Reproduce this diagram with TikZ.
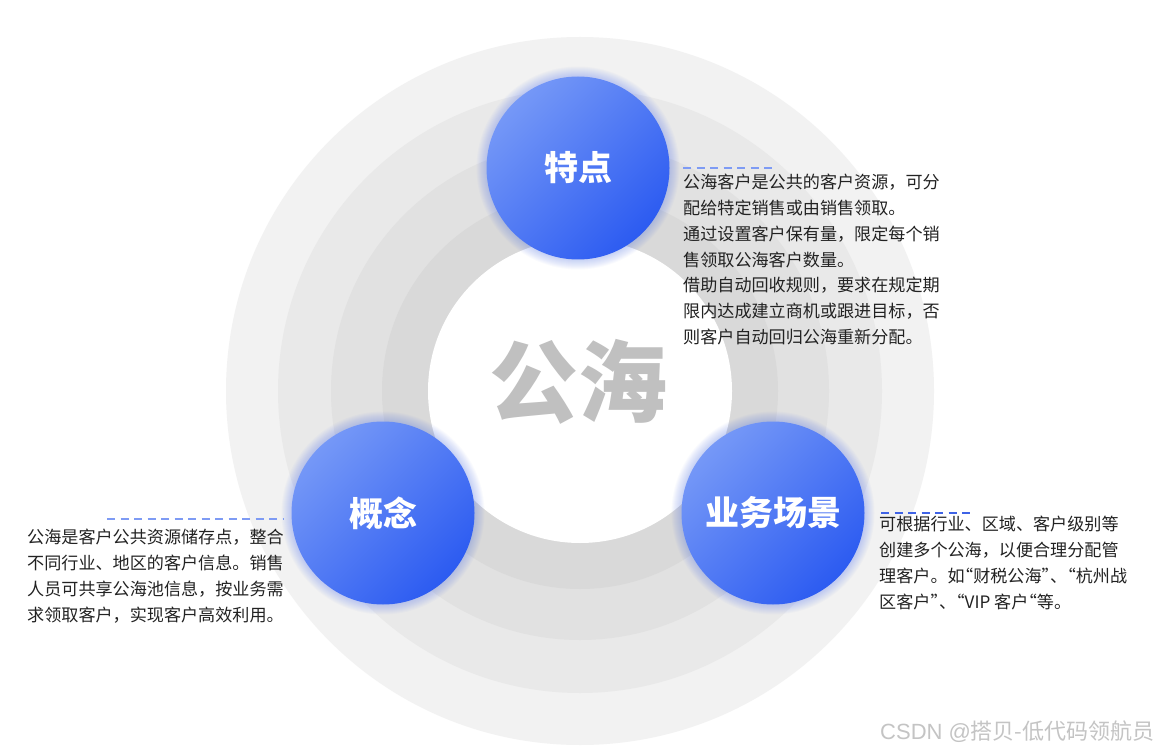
\documentclass[tikz,border=0pt]{standalone}
\usepackage{fontspec}
\setmainfont{Noto Sans CJK SC}
\newfontfamily\markfont{Liberation Sans}
\newcommand\hq[1]{{\addfontfeature{RawFeature=+halt}#1}}
\usetikzlibrary{calc}
\definecolor{ringA}{HTML}{F2F2F2}
\definecolor{ringB}{HTML}{E9E9E9}
\definecolor{ringC}{HTML}{E1E1E1}
\definecolor{ringD}{HTML}{D9D9D9}
\definecolor{blueLight}{HTML}{7598F7}
\definecolor{blueDark}{HTML}{2C5BF1}
\definecolor{glowBlue}{HTML}{4A6FF0}
\definecolor{dashBlue}{HTML}{7E9BF4}
\definecolor{dashDark}{HTML}{3F63E6}
\definecolor{bodyText}{HTML}{222222}
\definecolor{bigGray}{HTML}{C0C0C0}
\definecolor{markGray}{HTML}{C4C4C4}
\tikzset{
  bubble/.style={circle, minimum size=183pt, inner sep=0pt, text=white,
    top color=blueLight, bottom color=blueDark, shading angle=45,
    font=\fontsize{34}{40}\selectfont\bfseries},
  para/.style={anchor=north west, inner sep=0pt, align=left, text=bodyText,
    font=\fontsize{17.1}{25.8}\selectfont},
  guide/.style={line width=1.6pt, dash pattern=on 8pt off 5.5pt},
}
\begin{document}
\begin{tikzpicture}[x=1pt,y=-1pt]
\useasboundingbox (0,0) rectangle (1156,751);
\fill[white] (0,0) rectangle (1156,751);
% rings
\coordinate (c) at (580,391);
\fill[ringA] (c) circle (354);
\fill[ringB] (c) circle (302);
\fill[ringC] (c) circle (249);
\fill[ringD] (c) circle (198);
\fill[white] (c) circle (152);
\node[text=bigGray, font=\fontsize{89}{90}\selectfont\bfseries, inner sep=0pt] (title) at (578,382) {公海};
% glows
\foreach \p in {(578,168),(383,513),(773,513)}{
  \foreach \r in {1,2,...,10}{
    \fill[glowBlue, opacity=0.03] \p circle (91.5+\r);
  }
}
\node[bubble] (tedian) at (578,168) {特点};
\node[bubble] (gainian) at (383,513) {概念};
\node[bubble] (changjing) at (773,513) {业务场景};
% paragraphs
\node[para] (t1) at (683,174) {公海客户是公共的客户资源，可分\\配给特定销售或由销售领取。\\通过设置客户保有量，限定每个销\\售领取公海客户数量。\\借助自动回收规则，要求在规定期\\限内达成建立商机或跟进目标，否\\则客户自动回归公海重新分配。};
\node[para] (t2) at (27,529) {公海是客户公共资源储存点，整合\\不同行业、地区的客户信息。销售\\人员可共享公海池信息，按业务需\\求领取客户，实现客户高效利用。};
\node[para] (t3) at (879,516) {可根据行业、区域、客户级别等\\创建多个公海，以便合理分配管\\理客户。如\hq{“}财税公海\hq{”}、\hq{“}杭州战\\区客户\hq{”}、\hq{“}VIP 客户\hq{“}等。};
% dashed guides
\coordinate (d1a) at (683,168); \coordinate (d1b) at (777,168);
\coordinate (d2a) at (107,519); \coordinate (d2b) at (283,519);
\coordinate (d3a) at (881,513); \coordinate (d3b) at (975,513);
\draw[guide, dashBlue] (d1a) -- (d1b);
\draw[guide, dashBlue] (d2a) -- (d2b);
\draw[guide, dashDark] (d3a) -- (d3b);
% watermark
\node[anchor=west, inner sep=0pt, text=markGray, font=\fontsize{22}{24}\selectfont] (mark) at (880,732) {{\markfont CSDN @}搭贝-低代码领航员};
\end{tikzpicture}
\end{document}
